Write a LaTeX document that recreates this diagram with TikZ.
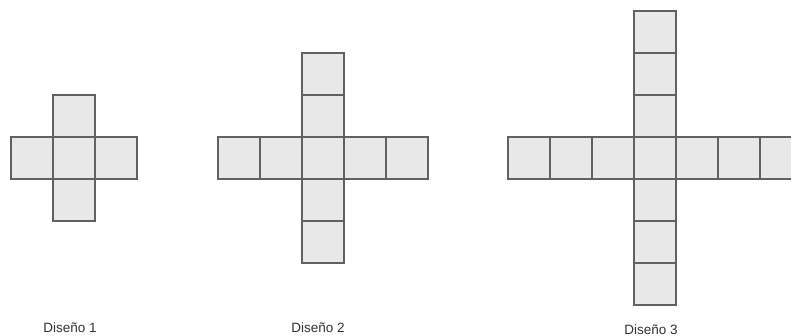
\documentclass[tikz,border=0pt]{standalone}
\usepackage{fontspec}
\setmainfont{Liberation Sans}
\begin{document}
\begin{tikzpicture}[x=1pt,y=-1pt,
  cell/.style={draw=black!62,fill=black!9,line width=1.1pt,minimum size=42pt,inner sep=0pt,outer sep=0pt},
  caption/.style={font=\fontsize{13.5}{16}\selectfont,text=black!80,anchor=base,inner sep=0pt}]
  \clip (0,0) rectangle (791,336);
  % Diseño 1: one square on each side
  \foreach \k in {-1,...,1} {
    \node[cell] (a-h\k) at ({74+42*\k},158) {};
    \node[cell] (a-v\k) at (74,{158+42*\k}) {};
  }
  % Diseño 2: two squares on each side
  \foreach \k in {-2,...,2} {
    \node[cell] (b-h\k) at ({323+42*\k},158) {};
    \node[cell] (b-v\k) at (323,{158+42*\k}) {};
  }
  % Diseño 3: three squares on each side
  \foreach \k in {-3,...,3} {
    \node[cell] (c-h\k) at ({655+42*\k},158) {};
    \node[cell] (c-v\k) at (655,{158+42*\k}) {};
  }
  \node[caption] (cap-a) at (70,332.5) {Diseño 1};
  \node[caption] (cap-b) at (318,332.5) {Diseño 2};
  \node[caption] (cap-c) at (651,334) {Diseño 3};
\end{tikzpicture}
\end{document}
